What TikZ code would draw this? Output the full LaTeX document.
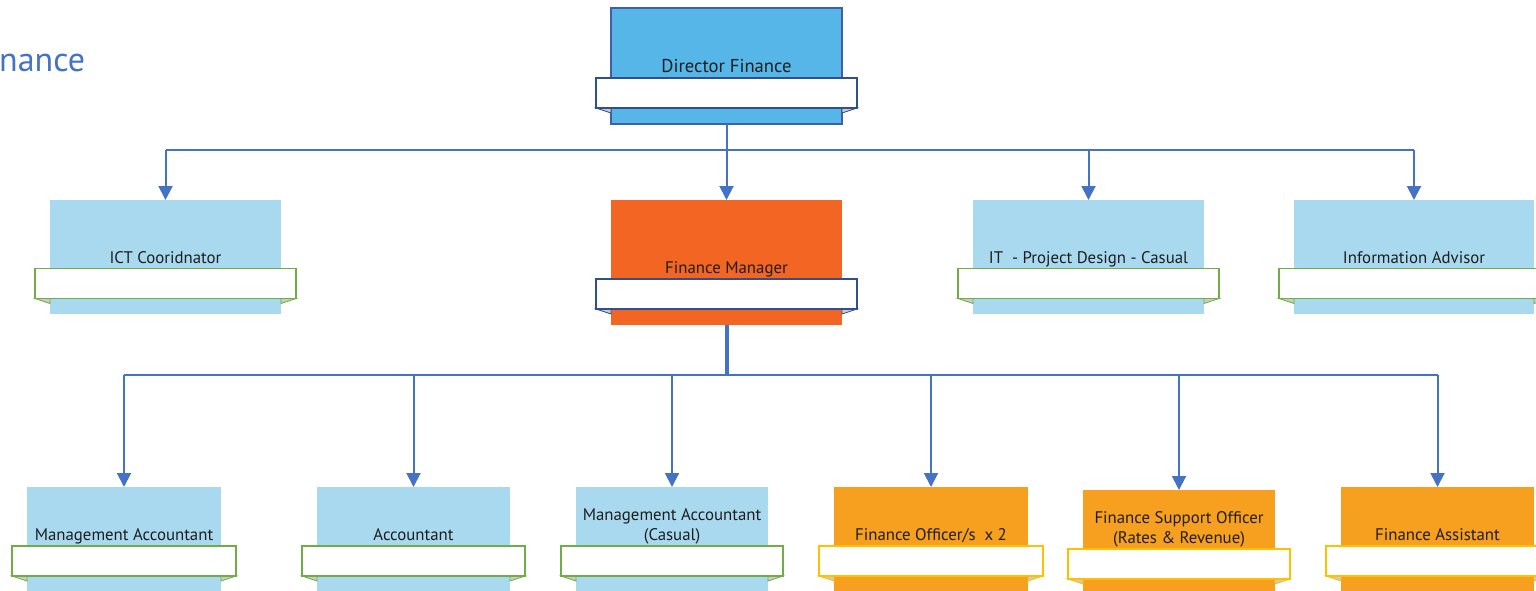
\documentclass[tikz,border=0pt]{standalone}
\usepackage{fontspec}
\setmainfont{PT Sans}
\usetikzlibrary{arrows.meta}

\definecolor{dirblue}{HTML}{56B6E7}
\definecolor{dirborder}{HTML}{3F5FA8}
\definecolor{paleblue}{HTML}{A8D9EF}
\definecolor{mgrorange}{HTML}{F26522}
\definecolor{staffamber}{HTML}{F7A01F}
\definecolor{linkblue}{HTML}{4472C4}
\definecolor{navyedge}{HTML}{2F4F8F}
\definecolor{greenedge}{HTML}{70AD47}
\definecolor{goldedge}{HTML}{FFC000}
\definecolor{tailgray}{HTML}{CFCBC3}
\definecolor{inkdark}{HTML}{1E1E1E}

\tikzset{
  unitbox/.style={rectangle, inner sep=0pt, outer sep=0pt},
  ribbon/.style={rectangle, fill=white, line width=1.4pt, inner sep=0pt, outer sep=0pt},
  tail/.style={fill=tailgray, line width=0.8pt, line join=miter},
  lbl/.style={font=\fontsize{16.8}{20}\selectfont, text=inkdark, align=center, inner sep=0pt},
  link/.style={draw=linkblue, line width=2pt},
  arr/.style={link, -{Triangle[width=14pt,length=14pt]}},
}

% #1 name, #2 centre x, #3 top y, #4 width, #5 height, #6 ribbon top y,
% #7 box options, #8 ribbon edge colour, #9 label
\newcommand\posbox[9]{%
  \node[unitbox, #7, minimum width=#4, minimum height=#5, anchor=north] (#1) at (#2,#3) {};
  \node[ribbon, draw=none, minimum width={#4+30}, minimum height=30, anchor=north] (#1-rib) at (#2,#6) {};
  \filldraw[tail, draw=#8] (#1-rib.south west) -- ++(15,5) -- ++(0,-5) -- cycle;
  \filldraw[tail, draw=#8] (#1-rib.south east) -- ++(-15,5) -- ++(0,-5) -- cycle;
  \node[ribbon, draw=#8, minimum width={#4+30}, minimum height=30, anchor=north] at (#2,#6) {};
  \node[lbl, anchor=south] (#1-txt) at ([yshift=1.5pt]#1-rib.north) {#9\vphantom{g}};
}

\begin{document}
\begin{tikzpicture}[x=1pt, y=-1pt]
  \useasboundingbox (0,0) rectangle (1536,591);
  \clip (0,0) rectangle (1536,591);

  % heading
  \node[anchor=west, inner sep=0pt, text=linkblue, font=\fontsize{34}{40}\selectfont] (head) at (-1,63) {nance};

  % director
  \posbox{dir}{726.5}{8}{231}{116}{78}{fill=dirblue, draw=dirborder, line width=1.2pt}{navyedge}{\fontsize{18.6}{22}\selectfont Director Finance}

  % second tier
  \posbox{ict}{165.5}{200}{231}{114}{268.5}{fill=paleblue}{greenedge}{ICT Cooridnator}
  \posbox{fm}{726.5}{200}{231}{125}{279}{fill=mgrorange}{navyedge}{Finance Manager}
  \posbox{itp}{1088.5}{200}{231}{114}{268.5}{fill=paleblue}{greenedge}{IT\ \ - Project Design - Casual}
  \posbox{info}{1414}{200}{240}{114}{268.5}{fill=paleblue}{greenedge}{Information Advisor}

  % third tier
  \posbox{ma}{124}{487}{194}{130}{546}{fill=paleblue}{greenedge}{Management Accountant}
  \posbox{acc}{413.5}{487}{193}{130}{546}{fill=paleblue}{greenedge}{Accountant}
  \posbox{mac}{672}{487}{192}{130}{546}{fill=paleblue}{greenedge}{Management Accountant\\(Casual)}
  \posbox{fo}{931}{487}{194}{130}{546}{fill=staffamber}{goldedge}{Finance Officer/s\ \ x 2}
  \posbox{fso}{1179}{490}{192}{130}{549}{fill=staffamber}{goldedge}{Finance Support Officer\\(Rates \& Revenue)}
  \posbox{fa}{1437.5}{487}{193}{130}{546}{fill=staffamber}{goldedge}{Finance Assistant}

  % director to second tier
  \coordinate (busA) at (726.5,150);
  \draw[link] (ict.north |- busA) -- (info.north |- busA);
  \draw[arr] (dir.south) -- (fm.north);
  \draw[arr] (ict.north |- busA) -- (ict.north);
  \draw[arr] (itp.north |- busA) -- (itp.north);
  \draw[arr] (info.north |- busA) -- (info.north);

  % manager to third tier
  \coordinate (busB) at (726.5,375);
  \draw[link, line width=4pt] (fm.south) -- (busB);
  \draw[link] (ma.north |- busB) -- (fa.north |- busB);
  \foreach \n in {ma, acc, mac, fo, fso, fa}
    \draw[arr] (\n.north |- busB) -- (\n.north);
\end{tikzpicture}
\end{document}
